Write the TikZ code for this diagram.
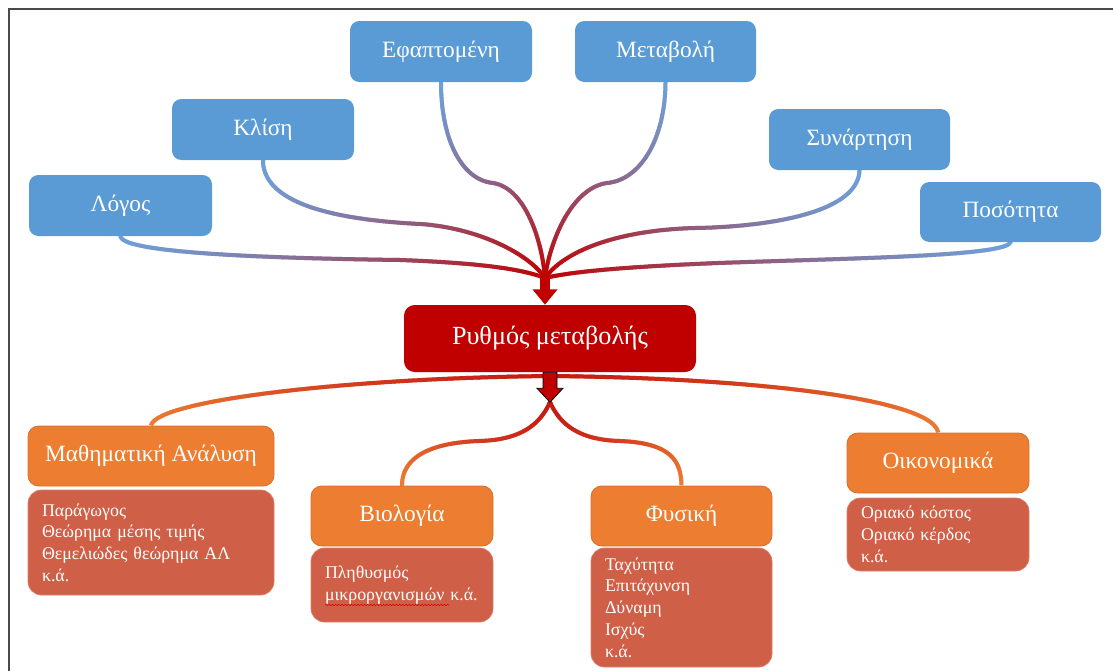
\documentclass[tikz,border=0pt]{standalone}
\usepackage{fontspec}
\setmainfont{Liberation Serif}
\usetikzlibrary{arrows.meta,decorations.markings,decorations.pathmorphing}

\definecolor{boxblue}{HTML}{5B9BD5}
\definecolor{lineblue}{HTML}{6F9ED6}
\definecolor{deepred}{HTML}{C00000}
\definecolor{forkred}{HTML}{C61A12}
\definecolor{boxorange}{HTML}{ED7D31}
\definecolor{orangeedge}{HTML}{D7702A}
\definecolor{detailred}{HTML}{D05F47}
\definecolor{framegray}{HTML}{4A4A4A}

\pgfdeclarelayer{background}
\pgfsetlayers{background,main}

\tikzset{
  % stroke whose colour fades from #1 to #2 along the path, width #3
  gradstroke/.style n args={3}{
    postaction={decorate, decoration={markings,
      mark=between positions 0 and 1 step 0.8pt with {
        \pgfmathsetmacro\gradpct{min(100,max(0,((\pgfkeysvalueof{/pgf/decoration/mark info/distance from start}/\pgfdecoratedpathlength)^1.4)*100))}
        \draw[line width=#3, color=#2!\gradpct!#1] (-0.6pt,0) -- (0.6pt,0);
      }}}},
  upline/.style={gradstroke={lineblue}{deepred}{3pt}},
  downline/.style={gradstroke={forkred}{boxorange}{3pt}},
  pxsize/.style 2 args={minimum width=#1*0.75pt, minimum height=#2*0.75pt},
  topic/.style={rectangle, rounded corners=7pt, fill=boxblue, text=white,
    inner sep=0pt, font=\fontsize{17.5pt}{20pt}\selectfont},
  core/.style={rectangle, rounded corners=8pt, fill=deepred, text=white,
    inner sep=0pt, font=\fontsize{19.6pt}{23pt}\selectfont},
  field/.style={rectangle, rounded corners=8pt, fill=boxorange, draw=orangeedge,
    line width=0.6pt, text=white, inner sep=0pt,
    font=\fontsize{17.5pt}{20pt}\selectfont},
  detail/.style={rectangle, rounded corners=10pt, fill=detailred,
    draw=detailred!80!white, line width=0.5pt, text=white, align=left,
    inner xsep=10.5pt, inner ysep=2pt,
    font=\fontsize{13.4pt}{16.3pt}\selectfont},
  blockarrow/.style={fill=deepred, draw=black, line width=0.6pt, line join=miter},
}

\begin{document}
\begin{tikzpicture}[x=0.75pt, y=-0.75pt]
\useasboundingbox (0,0) rectangle (1113,671);

% page frame
\draw[framegray, line width=1.5pt] (9,671) -- (9,9) -- (1113,9);

% upper topics
\node[topic, pxsize={183}{61}] (logos)  at (120.5,205.5) {Λόγος};
\node[topic, pxsize={182}{61}] (klisi)  at (263,129.5)   {Κλίση};
\node[topic, pxsize={182}{61}] (efapt)  at (441,51.5)    {Εφαπτομένη};
\node[topic, pxsize={181}{61}] (metab)  at (665.5,51.5)  {Μεταβολή};
\node[topic, pxsize={181}{61}] (synart) at (859.5,139.5) {Συνάρτηση};
\node[topic, pxsize={181}{60}] (posot)  at (1010.5,212)  {Ποσότητα};

% central concept
\node[core, pxsize={292}{67}] (central) at (550,338.5) {Ρυθμός μεταβολής};

% fields of application
\node[field, pxsize={246}{60}] (math) at (151,456)    {Μαθηματική Ανάλυση};
\node[field, pxsize={182}{60}] (bio)  at (402,516)    {Βιολογία};
\node[field, pxsize={181}{60}] (phys) at (681.5,516)  {Φυσική};
\node[field, pxsize={182}{60}] (econ) at (938,463)    {Οικονομικά};

\node[detail, text width=163.5pt, minimum height=78.75pt] (mathd) at (151,542.5)
  {Παράγωγος\\Θεώρημα μέσης τιμής\\Θεμελιώδες θεώρημα ΑΛ\\κ.ά.};
\node[detail, text width=115.5pt, minimum height=55.5pt] (biod) at (402,585)
  {Πληθυσμός\\μικροργανισμών κ.ά.};
\node[detail, text width=114.75pt, minimum height=89.25pt] (physd) at (681.5,607.5)
  {Ταχύτητα\\Επιτάχυνση\\Δύναμη\\Ισχύς\\κ.ά.};
\node[detail, text width=115.5pt, minimum height=54.75pt] (econd) at (938,534.5)
  {Οριακό κόστος\\Οριακό κέρδος\\κ.ά.};

% spelling mark under the long word
\draw[red!85!black, line width=0.4pt, decorate,
  decoration={snake, amplitude=0.5pt, segment length=2.4pt}]
  (325,605) -- (449,605);

% junction points
\coordinate (hub)  at (545,278);
\coordinate (fork) at (550,376);

\begin{pgfonlayer}{background}
  % topics converging on the hub
  \path[upline] (logos.south) .. controls (122,252) and (250,258) .. (400,260)
    .. controls (480,263) and (522,269) .. (hub);
  \path[upline] (klisi.south) .. controls (263,205) and (340,220) .. (420,224)
    .. controls (480,228) and (530,255) .. (hub);
  \path[upline] (efapt.south) .. controls (441,140) and (462,180) .. (493,183)
    .. controls (525,188) and (542,240) .. (hub);
  \path[upline] (metab.south) .. controls (665,140) and (640,180) .. (607,183)
    .. controls (572,188) and (550,240) .. (hub);
  \path[upline] (synart.south) .. controls (858,215) and (760,227) .. (695,228)
    .. controls (620,230) and (565,250) .. (hub);
  \path[upline] (posot.south) .. controls (1005,256) and (860,258) .. (718,263)
    .. controls (620,267) and (570,272) .. (hub);

  % hub to the branching fields
  \path[downline] (fork) .. controls (350,378) and (156,400) .. (math.north);
  \path[downline] (fork) .. controls (760,378) and (934,400) .. (econ.north);
\end{pgfonlayer}

\coordinate (tip) at (550,402);
\path[downline] (tip) .. controls (540,425) and (520,440) .. (479,441)
  .. controls (425,443) and (402,460) .. (bio.north);
\path[downline] (tip) .. controls (560,425) and (580,440) .. (620,441)
  .. controls (670,443) and (681,460) .. (phys.north);

% arrow from the hub into the central concept
\draw[deepred, line width=7.5pt, -{Triangle[width=18pt,length=11.5pt]}]
  (hub) -- (hub |- central.north);

% block arrow below the central concept
\draw[blockarrow, shift={(central.south)}]
  (-7,0) -- (7,0) -- (7,16) -- (13,16) -- (0,30) -- (-13,16) -- (-7,16) -- cycle;
\end{tikzpicture}
\end{document}
